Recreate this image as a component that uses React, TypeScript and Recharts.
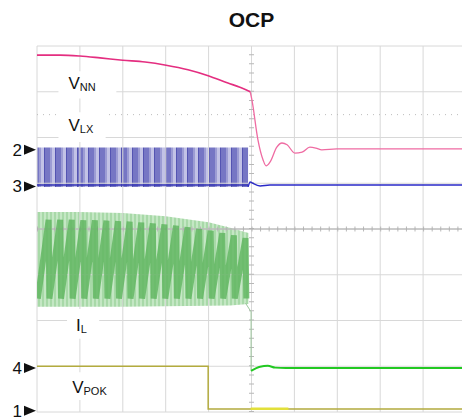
import { Area, ComposedChart, Line, ReferenceArea, ReferenceLine, XAxis, YAxis } from "recharts";

// time and level in scope divisions (10 x 8 graticule)
const gridX = [0, 1, 2, 3, 4, 5, 6, 7, 8, 9, 10];
const gridY = [0, 1, 2, 3, 4, 5, 6, 7, 8];

const markerLevels = [5.73, 4.93, 0.96, 0.03];
const markerLabels = ["2", "3", "4", "1"];

const vnnBefore = [
  { t: 0, v: 7.8 }, { t: 0.54, v: 7.8 }, { t: 1.0, v: 7.78 }, { t: 1.47, v: 7.74 },
  { t: 2.0, v: 7.69 }, { t: 2.52, v: 7.65 }, { t: 3.01, v: 7.58 }, { t: 3.52, v: 7.48 },
  { t: 3.99, v: 7.35 }, { t: 4.45, v: 7.19 }, { t: 4.73, v: 7.1 }, { t: 4.97, v: 7.0 },
];
const vnnAfter = [
  { t: 4.97, v: 7.0 }, { t: 5.01, v: 6.82 }, { t: 5.15, v: 5.95 }, { t: 5.27, v: 5.51 },
  { t: 5.34, v: 5.38 }, { t: 5.43, v: 5.46 }, { t: 5.59, v: 5.79 }, { t: 5.71, v: 5.88 },
  { t: 5.83, v: 5.84 }, { t: 6.01, v: 5.66 }, { t: 6.18, v: 5.68 }, { t: 6.36, v: 5.79 },
  { t: 6.5, v: 5.77 }, { t: 6.64, v: 5.73 }, { t: 6.99, v: 5.75 }, { t: 10, v: 5.75 },
];

const vlxBand = [
  { t: 0, r: [4.92, 5.78] }, { t: 4.92, r: [4.92, 5.78] },
];
const vlxBase = [{ t: 0, v: 4.96 }, { t: 4.92, v: 4.96 }];
const vlxAfter = [
  { t: 4.92, v: 4.92 }, { t: 4.97, v: 5.03 }, { t: 5.01, v: 5.01 }, { t: 5.2, v: 4.94 },
  { t: 5.43, v: 4.96 }, { t: 10, v: 4.96 },
];

const ilBand = [
  { t: 0, r: [2.3, 4.37] }, { t: 1.0, r: [2.3, 4.37] }, { t: 2.0, r: [2.3, 4.35] },
  { t: 3.0, r: [2.31, 4.28] }, { t: 4.0, r: [2.32, 4.15] }, { t: 4.5, r: [2.33, 4.03] },
  { t: 4.93, r: [2.36, 3.91] },
];
const ilRipple = [
  { t: 0.02, v: 2.48 }, { t: 0.27, v: 4.2 }, { t: 0.29, v: 2.48 }, { t: 0.54, v: 4.2 },
  { t: 0.56, v: 2.48 }, { t: 0.81, v: 4.2 }, { t: 0.83, v: 2.48 }, { t: 1.08, v: 4.19 },
  { t: 1.1, v: 2.48 }, { t: 1.35, v: 4.19 }, { t: 1.37, v: 2.48 }, { t: 1.62, v: 4.18 },
  { t: 1.64, v: 2.48 }, { t: 1.89, v: 4.17 }, { t: 1.91, v: 2.48 }, { t: 2.16, v: 4.16 },
  { t: 2.18, v: 2.48 }, { t: 2.43, v: 4.14 }, { t: 2.45, v: 2.48 }, { t: 2.7, v: 4.12 },
  { t: 2.72, v: 2.48 }, { t: 2.97, v: 4.1 }, { t: 2.99, v: 2.48 }, { t: 3.24, v: 4.07 },
  { t: 3.26, v: 2.48 }, { t: 3.51, v: 4.04 }, { t: 3.53, v: 2.48 }, { t: 3.78, v: 4.0 },
  { t: 3.8, v: 2.48 }, { t: 4.05, v: 3.96 }, { t: 4.07, v: 2.48 }, { t: 4.32, v: 3.91 },
  { t: 4.34, v: 2.48 }, { t: 4.59, v: 3.86 }, { t: 4.61, v: 2.48 }, { t: 4.86, v: 3.8 },
  { t: 4.88, v: 2.48 },
];
const ilDrop = [{ t: 4.86, v: 2.38 }, { t: 4.99, v: 2.19 }, { t: 4.99, v: 0.9 }];
const ilAfter = [
  { t: 4.99, v: 0.9 }, { t: 5.2, v: 0.99 }, { t: 5.38, v: 1.01 }, { t: 5.55, v: 0.97 },
  { t: 5.8, v: 0.96 }, { t: 10, v: 0.96 },
];

const vpok = [
  { t: 0, v: 1.0 }, { t: 3.99, v: 1.0 }, { t: 3.99, v: 0.066 }, { t: 10, v: 0.066 },
];
const vpokGlow = [{ t: 4.98, v: 0.07 }, { t: 5.86, v: 0.07 }];

const labels = [
  { main: "V", sub: "NN", x1: 0.5, x2: 1.85, y1: 6.85, y2: 7.45, dx: 10, dy: 18 },
  { main: "V", sub: "LX", x1: 0.5, x2: 1.6, y1: 5.9, y2: 6.55, dx: 10, dy: 19 },
  { main: "I", sub: "L", x1: 0.7, x2: 1.45, y1: 1.6, y2: 2.25, dx: 9, dy: 22 },
  { main: "V", sub: "POK", x1: 0.75, x2: 1.65, y1: 0.26, y2: 0.87, dx: 3, dy: 21 },
];

const FONT = "Liberation Sans, Arial, sans-serif";

function MarkerTick(props: any) {
  const { x, y, payload } = props;
  const i = markerLevels.indexOf(payload.value);
  return (
    <g>
      <text x={x - 15} y={y + 6} textAnchor="end" fontSize={17} fill="#111" fontFamily={FONT}>
        {markerLabels[i]}
      </text>
      <polygon points={`${x - 13},${y - 5} ${x - 13},${y + 5} ${x - 1},${y}`} fill="#111" />
    </g>
  );
}

function boxLabel(l: (typeof labels)[number]) {
  return (p: any) => {
    const vb = p.viewBox;
    return (
      <text x={vb.x + l.dx} y={vb.y + l.dy} fontFamily={FONT} fill="#111">
        <tspan fontSize={17}>{l.main}</tspan>
        <tspan fontSize={11} dy={2}>{l.sub}</tspan>
      </text>
    );
  };
}

export default function App() {
  return (
    <div style={{ position: "absolute", left: 0, top: 0, width: 462, height: 418, overflow: "hidden", background: "#fff" }}>
      <div
        style={{
          position: "absolute", top: 9, left: 0, width: 503, textAlign: "center",
          fontFamily: FONT, fontWeight: "bold", fontSize: 21, lineHeight: "21px", color: "#111",
        }}
      >
        OCP
      </div>
      <ComposedChart width={470} height={418} margin={{ top: 46, right: 4, bottom: 6, left: 0 }}>
        <defs>
          <pattern id="vlxStripes" patternUnits="userSpaceOnUse" width={11} height={60}>
            <rect x={0} y={0} width={11} height={60} fill="#c2c2e6" />
            <rect x={0} y={0} width={6} height={60} fill="#7676c4" />
            <rect x={6} y={0} width={2} height={60} fill="#9c9cd4" />
            <rect x={0} y={0} width={1} height={60} fill="#5454b2" />
          </pattern>
          <pattern id="ilStripes" patternUnits="userSpaceOnUse" width={4} height={100}>
            <rect x={0} y={0} width={4} height={100} fill="#a8d9a8" />
            <rect x={0} y={0} width={2} height={100} fill="#c4e7c4" />
          </pattern>
        </defs>
        <XAxis type="number" dataKey="t" domain={[0, 10]} hide allowDataOverflow />
        <YAxis
          type="number"
          domain={[0, 8]}
          width={37}
          ticks={markerLevels}
          interval={0}
          axisLine={false}
          tickLine={false}
          tickSize={0}
          tickMargin={0}
          tick={<MarkerTick />}
          allowDataOverflow
        />

        <Area data={ilBand} dataKey="r" type="linear" stroke="none" fill="url(#ilStripes)" fillOpacity={1} isAnimationActive={false} />
        <Area data={vlxBand} dataKey="r" type="linear" stroke="none" fill="url(#vlxStripes)" fillOpacity={1} isAnimationActive={false} />

        {gridX.map((g) => (
          <ReferenceLine key={`gx${g}`} x={g} stroke="#d8d8d8" strokeWidth={1} zIndex={150} />
        ))}
        {gridY.map((g) => (
          <ReferenceLine key={`gy${g}`} y={g} stroke="#d8d8d8" strokeWidth={1} zIndex={150} />
        ))}
        <ReferenceLine y={6.5} stroke="#bcbcbc" strokeDasharray="1 5" zIndex={150} />
        <ReferenceLine x={5} stroke="#b8b8b8" strokeWidth={5} strokeDasharray="1 8.15" zIndex={150} />
        <ReferenceLine y={4} stroke="#b8b8b8" strokeWidth={5} strokeDasharray="1 7.58" zIndex={150} />
        <ReferenceLine y={4} stroke="#acacac" strokeWidth={1} zIndex={150} />

        {labels.map((l) => (
          <ReferenceArea
            key={l.sub}
            x1={l.x1}
            x2={l.x2}
            y1={l.y1}
            y2={l.y2}
            fill="#fff"
            fillOpacity={1}
            stroke="none"
            zIndex={200}
            label={boxLabel(l)}
          />
        ))}

        <Line data={ilRipple} dataKey="v" type="linear" stroke="#5db45d" strokeWidth={6} strokeOpacity={0.8} strokeLinejoin="miter" dot={false} isAnimationActive={false} />
        <Line data={ilDrop} dataKey="v" type="linear" stroke="#9cc79c" strokeWidth={1} dot={false} isAnimationActive={false} />
        <Line data={ilAfter} dataKey="v" type="monotone" stroke="#22c922" strokeWidth={2} dot={false} isAnimationActive={false} />

        <Line data={vlxBase} dataKey="v" type="linear" stroke="#3434b4" strokeWidth={1.5} dot={false} isAnimationActive={false} />
        <Line data={vlxAfter} dataKey="v" type="monotone" stroke="#2a2ac8" strokeWidth={1.5} dot={false} isAnimationActive={false} />

        <Line data={vnnBefore} dataKey="v" type="monotone" stroke="#e42e80" strokeWidth={1.6} dot={false} isAnimationActive={false} />
        <Line data={vnnAfter} dataKey="v" type="monotone" stroke="#ef6ba2" strokeWidth={1.3} dot={false} isAnimationActive={false} />

        <Line data={vpok} dataKey="v" type="linear" stroke="#b3ab3e" strokeWidth={1.5} dot={false} isAnimationActive={false} />
        <Line data={vpokGlow} dataKey="v" type="linear" stroke="#e2e03a" strokeWidth={2.5} dot={false} isAnimationActive={false} />
      </ComposedChart>
    </div>
  );
}
